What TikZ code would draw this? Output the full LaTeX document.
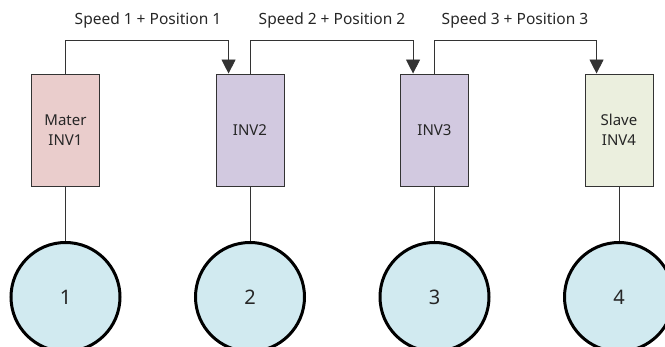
\documentclass[tikz,border=0pt]{standalone}
\usepackage{fontspec}
\setmainfont{Noto Sans}
\usetikzlibrary{arrows.meta,calc}
\definecolor{edgegray}{HTML}{333333}
\definecolor{pinkfill}{HTML}{EACDCC}
\definecolor{lavfill}{HTML}{D2C9E0}
\definecolor{greenfill}{HTML}{EBEFDE}
\definecolor{bluefill}{HTML}{D1EAF0}
\begin{document}
\begin{tikzpicture}[x=1pt,y=-1pt,
  inv/.style={draw=edgegray,line width=0.9pt,minimum width=68pt,minimum height=112pt,inner sep=1pt,align=center,font=\fontsize{15}{20}\selectfont,text=black!85},
  motor/.style={circle,draw=black,line width=3pt,fill=bluefill,minimum size=109pt,inner sep=0pt,font=\fontsize{20}{22}\selectfont,text=black!85},
  link/.style={draw=edgegray,line width=0.9pt},
  sig/.style={link,-{Triangle[length=14pt,width=14pt]}},
  lab/.style={font=\fontsize{15.5}{18}\selectfont,text=black!85}]
\useasboundingbox (0,0) rectangle (665,347);
\node[inv,fill=pinkfill] (b1) at (65.5,130) {Mater\\INV1};
\node[inv,fill=lavfill] (b2) at (250,130) {INV2};
\node[inv,fill=lavfill] (b3) at (434.5,130) {INV3};
\node[inv,fill=greenfill] (b4) at (619,130) {Slave\\INV4};
\node[motor] (m1) at (65.5,297) {1};
\node[motor] (m2) at (250,297) {2};
\node[motor] (m3) at (434.5,297) {3};
\node[motor] (m4) at (619,297) {4};
\foreach \i in {1,2,3,4} \draw[link] (b\i.south) -- (m\i.north);
\coordinate (t2) at ($(b2.north west)+(13,0)$);
\coordinate (t3) at ($(b3.north west)+(13,0)$);
\coordinate (t4) at ($(b4.north west)+(12,0)$);
\draw[sig] (b1.north) -- ++(0,-33) -| (t2);
\draw[sig] (b2.north) -- ++(0,-33) -| (t3);
\draw[sig] (b3.north) -- ++(0,-33) -| (t4);
\node[lab] (l1) at (148,20) {Speed 1 + Position 1};
\node[lab] (l2) at (332,20) {Speed 2 + Position 2};
\node[lab] (l3) at (515,20) {Speed 3 + Position 3};
\end{tikzpicture}
\end{document}
